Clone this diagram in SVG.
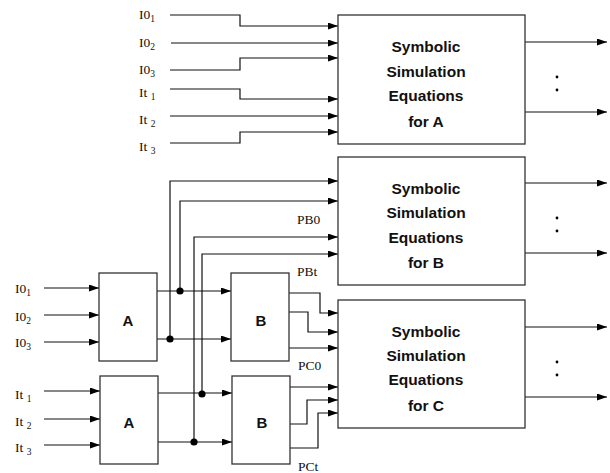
<svg xmlns="http://www.w3.org/2000/svg" width="610" height="473" viewBox="0 0 610 473">
<style>
.w{fill:none;stroke:#111;stroke-width:1.2}
.box{fill:#fff;stroke:#333;stroke-width:1.3}
.lbl{font-family:"Liberation Serif",serif;font-size:13.5px;fill:#111}
.sub{font-size:9.5px}
.eq{font-family:"Liberation Sans",Arial,sans-serif;font-weight:bold;font-size:15.5px;fill:#111;text-anchor:middle}
.blk{font-family:"Liberation Sans",Arial,sans-serif;font-weight:bold;font-size:15px;fill:#111;text-anchor:middle}
.dot{fill:#000}
</style>
<defs>
<marker id="ah" markerUnits="userSpaceOnUse" markerWidth="10" markerHeight="7" refX="10" refY="3.5" orient="auto">
<path d="M0,0 L10,3.5 L0,7 z" fill="#000"/>
</marker>
</defs>
<g id="connectors" class="w" marker-end="url(#ah)">
<path d="M170,15 H240 V26 H338"/>
<path d="M171,43 H338"/>
<path d="M170,70 H240 V58 H338"/>
<path d="M170,89 H240 V99 H338"/>
<path d="M170,116 H338"/>
<path d="M170,143 H240 V132 H338"/>
<path d="M525,42 H607"/>
<path d="M525,112 H607"/>
<path d="M525,183 H607"/>
<path d="M525,253 H607"/>
<path d="M525,327 H607"/>
<path d="M525,397 H607"/>
<path d="M44,288 H99"/>
<path d="M44,315 H99"/>
<path d="M44,342 H99"/>
<path d="M44,391 H100"/>
<path d="M44,419 H100"/>
<path d="M44,445 H100"/>
<path d="M157,291 H231"/>
<path d="M157,339 H231"/>
<path d="M158,393 H232"/>
<path d="M158,442 H232"/>
<path d="M170,339 V181 H338"/>
<path d="M180,291 V201 H338"/>
<path d="M194,442 V237 H338"/>
<path d="M202,394 V254 H338"/>
<path d="M289,293 H320 V313 H338"/>
<path d="M289,312 H308 V332 H338"/>
<path d="M289,348 H338"/>
<path d="M290,387 H338"/>
<path d="M290,424 H307 V400 H338"/>
<path d="M290,448 H318 V413 H338"/>
</g>
<g id="junctions">
<circle class="dot" cx="180" cy="291" r="3.6"/>
<circle class="dot" cx="170" cy="339" r="3.6"/>
<circle class="dot" cx="202" cy="394" r="3.6"/>
<circle class="dot" cx="194" cy="442" r="3.6"/>
<circle class="dot" cx="557" cy="77" r="1.4"/>
<circle class="dot" cx="557" cy="90" r="1.4"/>
<circle class="dot" cx="557" cy="218" r="1.4"/>
<circle class="dot" cx="557" cy="231" r="1.4"/>
<circle class="dot" cx="557" cy="362" r="1.4"/>
<circle class="dot" cx="557" cy="375" r="1.4"/>
</g>
<g id="eqA">
<rect class="box" x="338" y="15" width="187" height="129"/>
<text class="eq" x="426" y="52">Symbolic</text>
<text class="eq" x="426" y="77">Simulation</text>
<text class="eq" x="426" y="101">Equations</text>
<text class="eq" x="426" y="127">for A</text>
</g>
<g id="eqB">
<rect class="box" x="338" y="157" width="187" height="128"/>
<text class="eq" x="426" y="194">Symbolic</text>
<text class="eq" x="426" y="218">Simulation</text>
<text class="eq" x="426" y="243">Equations</text>
<text class="eq" x="426" y="268">for B</text>
</g>
<g id="eqC">
<rect class="box" x="338" y="300" width="187" height="128"/>
<text class="eq" x="426" y="337">Symbolic</text>
<text class="eq" x="426" y="361">Simulation</text>
<text class="eq" x="426" y="385">Equations</text>
<text class="eq" x="426" y="411">for C</text>
</g>
<g id="A1">
<rect class="box" x="99" y="273" width="58" height="88"/>
<text class="blk" x="128" y="326">A</text>
</g>
<g id="A2">
<rect class="box" x="100" y="376" width="58" height="88"/>
<text class="blk" x="129" y="428">A</text>
</g>
<g id="B1">
<rect class="box" x="231" y="273" width="58" height="88"/>
<text class="blk" x="261" y="326">B</text>
</g>
<g id="B2">
<rect class="box" x="232" y="376" width="58" height="88"/>
<text class="blk" x="262" y="428">B</text>
</g>
<g id="labels">
<text class="lbl" x="139" y="19">I0<tspan class="sub" dy="3">1</tspan></text>
<text class="lbl" x="139" y="47">I0<tspan class="sub" dy="3">2</tspan></text>
<text class="lbl" x="139" y="74">I0<tspan class="sub" dy="3">3</tspan></text>
<text class="lbl" x="139" y="97">It <tspan class="sub" dy="3">1</tspan></text>
<text class="lbl" x="139" y="124">It <tspan class="sub" dy="3">2</tspan></text>
<text class="lbl" x="139" y="151">It <tspan class="sub" dy="3">3</tspan></text>
<text class="lbl" x="15" y="293">I0<tspan class="sub" dy="3">1</tspan></text>
<text class="lbl" x="15" y="321">I0<tspan class="sub" dy="3">2</tspan></text>
<text class="lbl" x="15" y="347">I0<tspan class="sub" dy="3">3</tspan></text>
<text class="lbl" x="15" y="399">It <tspan class="sub" dy="3">1</tspan></text>
<text class="lbl" x="15" y="426">It <tspan class="sub" dy="3">2</tspan></text>
<text class="lbl" x="15" y="452">It <tspan class="sub" dy="3">3</tspan></text>
<text class="lbl" x="297" y="224">PB0</text>
<text class="lbl" x="297" y="276">PBt</text>
<text class="lbl" x="298" y="370">PC0</text>
<text class="lbl" x="298" y="471">PCt</text>
</g>
</svg>
